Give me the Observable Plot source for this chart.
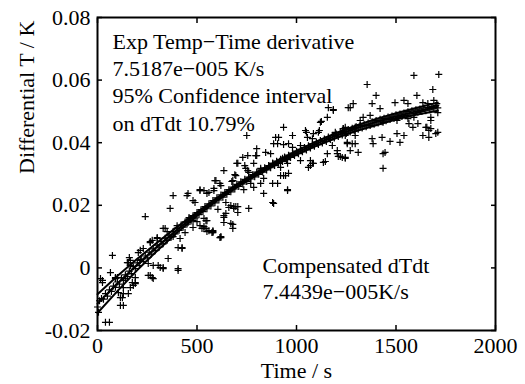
<!DOCTYPE html>
<html>
<head>
<meta charset="utf-8">
<script src="https://cdn.jsdelivr.net/npm/d3@7"></script>
<script src="https://cdn.jsdelivr.net/npm/@observablehq/plot@0.6"></script>
<style>
  html, body { margin: 0; padding: 0; background: #fff; }
  #chart svg, #chart svg text { font-family: "Liberation Serif", "Times New Roman", serif !important; }
</style>
</head>
<body>
<div id="chart"></div>
<script>
const xTicks = [0, 500, 1000, 1500, 2000];
const yTicks = [-0.02, 0, 0.02, 0.04, 0.06, 0.08];

const annotLines = ["Exp Temp−Time derivative", "7.5187e−005 K/s", "95% Confidence interval", "on dTdt 10.79%"];
const compLines = ["Compensated dTdt", "7.4439e−005K/s"];

// fitted curve and 95% bounds
const fitTime = [0,100,200,300,400,500,600,700,800,900,1000,1100,1200,1300,1400,1500,1600,1710];
const fitValue = [-0.0114,-0.0050,0.0011,0.0068,0.0122,0.0172,0.0219,0.0262,0.0301,0.0336,0.0368,0.0397,0.0423,0.0446,0.0466,0.0484,0.0500,0.0515];
const fitUpper = [-0.0084,-0.0026,0.0029,0.0081,0.0131,0.0178,0.0224,0.0267,0.0306,0.0341,0.0374,0.0404,0.0431,0.0455,0.0476,0.0494,0.0511,0.0528];
const fitLower = [-0.0144,-0.0074,-0.0007,0.0055,0.0113,0.0166,0.0214,0.0257,0.0296,0.0331,0.0362,0.0390,0.0415,0.0437,0.0456,0.0474,0.0489,0.0502];

// scattered observations [time s, differential K]
const scatterObs = [
[365,0.0190],[240,0.0164],[340,0.0126],[400,0.0135],[440,0.0113],[455,0.0145],[300,0.0097],[265,0.0081],[425,0.0065],[205,0.0049],[75,0.0040],[155,0.0017],[305,0.0008],[330,0.0001],[405,-0.0008],[65,-0.0015],[265,-0.0024],[280,-0.0034],[25,-0.0040],[90,-0.0034],[165,-0.0063],[190,-0.0047],[125,-0.0095],[130,-0.0120],[40,-0.0174],[60,-0.0174],[5,-0.0142],[545,0.0126],[580,0.0113],[620,0.0100],[635,0.0167],[490,0.0209],
[755,0.0359],[730,0.0353],[705,0.0334],[745,0.0318],[760,0.0305],[635,0.0311],[695,0.0295],[680,0.0279],[595,0.0279],[515,0.0250],[585,0.0247],[620,0.0263],[455,0.0238],[380,0.0231],[480,0.0215],[605,0.0187],[670,0.0199],[695,0.0196],[760,0.0190],[645,0.0174],[635,0.0145],[550,0.0151],[515,0.0135],[480,0.0129],[535,0.0126],[670,0.0142],[680,0.0126],[580,0.0119],[550,0.0116],[620,0.0097],[330,0.0126],[350,0.0116],[415,0.0094],[380,0.0100],[265,0.0084],[300,0.0094],[480,0.0151],
[935,0.0449],[750,0.0423],[895,0.0417],[910,0.0417],[980,0.0423],[935,0.0394],[905,0.0397],[1050,0.0433],[1085,0.0429],[1110,0.0433],[1120,0.0465],[1245,0.0449],[1055,0.0417],[1080,0.0413],[980,0.0385],[1020,0.0391],[845,0.0369],[870,0.0365],[795,0.0359],[700,0.0334],[785,0.0334],[930,0.0350],[955,0.0334],[920,0.0321],[1020,0.0343],[1070,0.0343],[1080,0.0334],[1060,0.0321],[1145,0.0340],[1155,0.0365],[1205,0.0365],[1210,0.0356],[1245,0.0353],[1255,0.0397],[690,0.0298],[755,0.0311],[590,0.0279],[615,0.0270],[675,0.0276],[835,0.0286],[820,0.0270],[770,0.0270],[785,0.0257],[735,0.0250],[880,0.0270],[905,0.0270],[960,0.0302],[935,0.0295],[955,0.0250],[585,0.0254],[560,0.0241],[535,0.0247],[885,0.0206],[645,0.0209],[685,0.0196],[705,0.0196],[660,0.0193],[635,0.0161],[545,0.0151],[535,0.0132],[560,0.0119],[580,0.0116],[680,0.0139],
[1160,0.0512],[1185,0.0506],[1155,0.0481],[1125,0.0468],[1260,0.0512],[1045,0.0439],[1115,0.0439],[1195,0.0433],[1235,0.0445],[800,0.0381],[885,0.0397],[960,0.0397],
[1590,0.0615],[1715,0.0618],[1355,0.0586],[1400,0.0551],[1380,0.0525],[1420,0.0509],[1185,0.0503],[1270,0.0512],[1285,0.0525],[1495,0.0528],[1540,0.0535],[1560,0.0525],[1605,0.0551],[1685,0.0570],[1690,0.0535],[1705,0.0525],[1635,0.0528],[1660,0.0525],[1335,0.0481],[1370,0.0487],[1320,0.0471],[1230,0.0433],[1435,0.0465],[1505,0.0471],[1560,0.0477],[1590,0.0481],[1585,0.0449],[1610,0.0461],[1675,0.0481],[1710,0.0496],[1650,0.0449],[1665,0.0439],[1710,0.0433],[1635,0.0423],[1665,0.0417],[1380,0.0413],[1385,0.0397],[1430,0.0417],[1470,0.0404],[1520,0.0401],[1505,0.0429],[1255,0.0401],[1280,0.0397],[1295,0.0397],[1270,0.0375],[1310,0.0369],[1230,0.0353],[1245,0.0350],[1445,0.0369],[1435,0.0318],[1180,0.0391],[1205,0.0375],
[1565,0.0461],[1655,0.0449],[1675,0.0445],[1700,0.0429],[1675,0.0471],[1295,0.0449],[1295,0.0423],[1235,0.0445],[1245,0.0423],[1540,0.0423],
[1435,0.0365],[1135,0.0337],[1220,0.0356],[1070,0.0327],[1085,0.0334],
[800,0.0359],[740,0.0327],[820,0.0318],[880,0.0334],[920,0.0295],[945,0.0295],[880,0.0209],[955,0.0247],[835,0.0238],[685,0.0190],[705,0.0177],[615,0.0097],[575,0.0113],[525,0.0126],[450,0.0231],[515,0.0247],[550,0.0238],[460,0.0161],[535,0.0158],[500,0.0148],[405,0.0065],[425,0.0062],[355,0.0030],[330,-0.0002],[315,0.0001],[280,0.0008],[255,-0.0024],[275,-0.0031],[405,-0.0002],[90,-0.0031],[140,-0.0034],[15,-0.0034],[160,0.0033],[215,0.0056],[230,0.0062],[275,0.0088],[215,0.0024],[165,0.0024],[175,-0.0047],[190,-0.0031],[180,-0.0056],[130,-0.0063],[105,-0.0079],[130,-0.0082],[115,-0.0095],
[25,-0.0047],[100,-0.0031],[165,0.0008],[150,0.0017],[255,0.0014],[190,-0.0050],[155,-0.0082],[115,-0.0120]
];

// dense observations lying along the fitted curve [time s, differential K]
const bandObs = [
[0,-0.0125],[10,-0.0105],[20,-0.0098],[30,-0.0100],[40,-0.0082],[50,-0.0090],[60,-0.0070],[70,-0.0075],[80,-0.0058],[90,-0.0062],
[100,-0.0045],[110,-0.0052],[120,-0.0032],[130,-0.0040],[140,-0.0022],[150,-0.0028],[160,-0.0010],[170,-0.0018],[180,0.0004],[190,-0.0002],
[200,0.0016],[210,0.0008],[220,0.0027],[230,0.0021],[240,0.0038],[250,0.0032],[260,0.0050],[270,0.0044],[280,0.0061],[290,0.0055],
[300,0.0073],[310,0.0066],[320,0.0084],[330,0.0077],[340,0.0095],[350,0.0088],[360,0.0105],[370,0.0098],[380,0.0116],[390,0.0109],
[400,0.0127],[410,0.0120],[420,0.0137],[430,0.0130],[440,0.0147],[450,0.0140],[460,0.0157],[470,0.0150],[480,0.0167],[490,0.0160],
[500,0.0177],[510,0.0170],[520,0.0186],[530,0.0180],[540,0.0196],[550,0.0189],[560,0.0205],[570,0.0198],[580,0.0215],[590,0.0208],
[600,0.0224],[610,0.0217],[620,0.0233],[630,0.0226],[640,0.0241],[650,0.0235],[660,0.0250],[670,0.0243],[680,0.0258],[690,0.0252],
[700,0.0267],[710,0.0260],[720,0.0275],[730,0.0268],[740,0.0283],[750,0.0276],[760,0.0290],[770,0.0284],[780,0.0298],[790,0.0291],
[800,0.0306],[810,0.0299],[820,0.0313],[830,0.0306],[840,0.0320],[850,0.0313],[860,0.0327],[870,0.0320],[880,0.0334],[890,0.0327],
[900,0.0341],[910,0.0334],[920,0.0347],[930,0.0340],[940,0.0354],[950,0.0346],[960,0.0360],[970,0.0353],[980,0.0367],[990,0.0359],
[1000,0.0373],[1010,0.0365],[1020,0.0379],[1030,0.0371],[1040,0.0385],[1050,0.0377],[1060,0.0390],[1070,0.0383],[1080,0.0396],[1090,0.0389],
[1100,0.0402],[1110,0.0394],[1120,0.0407],[1130,0.0399],[1140,0.0412],[1150,0.0404],[1160,0.0418],[1170,0.0410],[1180,0.0423],[1190,0.0415],
[1200,0.0428],[1210,0.0420],[1220,0.0433],[1230,0.0425],[1240,0.0437],[1250,0.0429],[1260,0.0442],[1270,0.0434],[1280,0.0446],[1290,0.0438],
[1300,0.0451],[1310,0.0443],[1320,0.0455],[1330,0.0447],[1340,0.0459],[1350,0.0451],[1360,0.0463],[1370,0.0455],[1380,0.0467],[1390,0.0459],
[1400,0.0471],[1410,0.0463],[1420,0.0475],[1430,0.0467],[1440,0.0478],[1450,0.0470],[1460,0.0482],[1470,0.0474],[1480,0.0485],[1490,0.0477],
[1500,0.0489],[1510,0.0481],[1520,0.0492],[1530,0.0484],[1540,0.0495],[1550,0.0487],[1560,0.0499],[1570,0.0491],[1580,0.0502],[1590,0.0494],
[1600,0.0505],[1610,0.0497],[1620,0.0508],[1630,0.0500],[1640,0.0511],[1650,0.0502],[1660,0.0513],[1670,0.0505],[1680,0.0516],[1690,0.0508],
[1700,0.0519],[1710,0.0511]
];

const obsRows = scatterObs.concat(bandObs).map(([t, v]) => ({t, v}));
const fitRows = [];
fitTime.forEach((t, i) => {
  fitRows.push({t, v: fitLower[i], s: "lower"});
  fitRows.push({t, v: fitValue[i], s: "fit"});
  fitRows.push({t, v: fitUpper[i], s: "upper"});
});

const plusSymbol = {
  draw(context, size) {
    const h = Math.sqrt(size / Math.PI);
    context.moveTo(-h, 0); context.lineTo(h, 0);
    context.moveTo(0, -h); context.lineTo(0, h);
  }
};

const yFmt = d => d === 0 ? "0" : d.toFixed(2);
const blank = () => "";
const FONT = 22;

const chart = Plot.plot({
  width: 525,
  height: 384,
  marginLeft: 97,
  marginRight: 30,
  marginTop: 17,
  marginBottom: 54,
  style: "font-family: 'Liberation Serif', 'Times New Roman', serif; font-size: 22px; background: #fff; color: #000;",
  x: {domain: [0, 2000]},
  y: {domain: [-0.02, 0.08]},
  marks: [
    Plot.dot(obsRows, {x: "t", y: "v", symbol: plusSymbol, r: 3.5, stroke: "black", fill: "none", strokeWidth: 1.2}),
    Plot.line(fitRows, {x: "t", y: "v", z: "s", stroke: "black", strokeWidth: 2}),
    Plot.axisX({ticks: xTicks, anchor: "bottom", tickSize: 0, tickPadding: 7, tickFormat: d => String(d), label: null, fontSize: FONT}),
    Plot.axisX({ticks: xTicks, anchor: "bottom", tickSize: -5, tickFormat: blank, label: null, strokeWidth: 1.5}),
    Plot.axisX({ticks: xTicks, anchor: "top", tickSize: -5, tickFormat: blank, label: null, strokeWidth: 1.5}),
    Plot.axisY({ticks: yTicks, anchor: "left", tickSize: 0, tickPadding: 7, tickFormat: yFmt, label: null, fontSize: FONT}),
    Plot.axisY({ticks: yTicks, anchor: "left", tickSize: -5, tickFormat: blank, label: null, strokeWidth: 1.5}),
    Plot.axisY({ticks: yTicks, anchor: "right", tickSize: -5, tickFormat: blank, label: null, strokeWidth: 1.5}),
    Plot.text([annotLines.join("\n")], {text: d => d, frameAnchor: "top-left", dx: 15, dy: 12, lineAnchor: "top", textAnchor: "start", lineHeight: 1.24, fill: "black", fontSize: FONT}),
    Plot.text([compLines.join("\n")], {text: d => d, frameAnchor: "top-left", dx: 165, dy: 237, lineAnchor: "top", textAnchor: "start", lineHeight: 1.18, fill: "black", fontSize: FONT}),
    Plot.text(["Time / s"], {text: d => d, frameAnchor: "bottom", dy: 47, fill: "black", fontSize: FONT}),
    Plot.text(["Differential T / K"], {text: d => d, frameAnchor: "left", dx: -71, rotate: -90, fill: "black", fontSize: FONT}),
    Plot.frame({stroke: "black", strokeWidth: 2})
  ]
});
document.getElementById("chart").appendChild(chart);
</script>
</body>
</html>
